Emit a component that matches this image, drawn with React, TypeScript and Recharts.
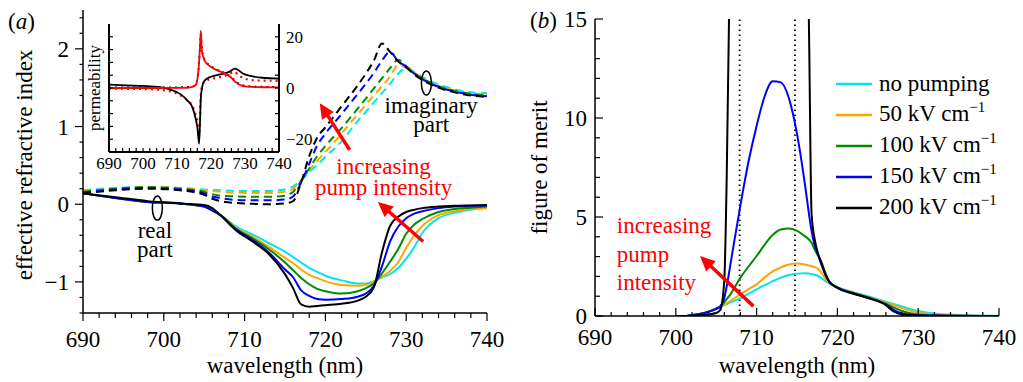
import React from 'react'
import {
  LineChart,
  Line,
  XAxis,
  YAxis,
  ReferenceLine,
  ReferenceDot,
  Legend
} from 'recharts'

const SERIF = 'Liberation Serif, Tinos, DejaVu Serif, Noto Serif, serif'
const RED = '#ff0000'
const AXIS = { stroke: '#000', strokeWidth: 1.5 }

// series colours, lowest to highest pump field
const colors = ['#00e6f0', '#ffa500', '#008c00', '#0000ff', '#000000']
const fields = [0, 50, 100, 150, 200]

// ---------- panel (a): effective refractive index ----------
const wlA = [690, 694, 698, 702, 705, 706, 707, 709, 711, 713, 715, 716, 717, 718, 719, 720, 722, 724, 725, 726, 727, 728, 729, 730, 731, 732, 734, 736, 738, 740]

const reCyan = [0.14, 0.08, 0.03, 0.01, -0.03, -0.08, -0.14, -0.29, -0.39, -0.5, -0.61, -0.68, -0.75, -0.82, -0.87, -0.92, -0.98, -1.02, -1.02, -0.99, -0.94, -0.9, -0.82, -0.7, -0.55, -0.37, -0.18, -0.11, -0.07, -0.05]
const reOrange = [0.14, 0.08, 0.03, 0.01, -0.03, -0.08, -0.14, -0.31, -0.42, -0.55, -0.69, -0.76, -0.84, -0.91, -0.95, -0.99, -1.04, -1.05, -1.04, -1.0, -0.93, -0.86, -0.75, -0.56, -0.4, -0.28, -0.14, -0.09, -0.06, -0.05]
const reGreen = [0.14, 0.08, 0.03, 0.01, -0.03, -0.08, -0.14, -0.32, -0.44, -0.58, -0.75, -0.85, -0.95, -1.03, -1.09, -1.12, -1.15, -1.12, -1.08, -1.02, -0.89, -0.74, -0.58, -0.38, -0.26, -0.19, -0.1, -0.06, -0.045, -0.03]
const reBlue = [0.14, 0.08, 0.03, 0.01, -0.03, -0.08, -0.14, -0.33, -0.46, -0.62, -0.84, -0.94, -1.11, -1.18, -1.22, -1.23, -1.22, -1.19, -1.15, -1.05, -0.8, -0.48, -0.29, -0.18, -0.12, -0.09, -0.05, -0.03, -0.02, -0.015]
const reBlack = [0.14, 0.09, 0.04, 0.01, -0.01, -0.05, -0.14, -0.34, -0.48, -0.64, -0.9, -1.08, -1.29, -1.32, -1.31, -1.3, -1.28, -1.24, -1.19, -1.07, -0.62, -0.28, -0.16, -0.1, -0.07, -0.05, -0.03, -0.02, -0.015, -0.01]

const imCyan = [0.18, 0.21, 0.22, 0.21, 0.19, 0.185, 0.18, 0.17, 0.17, 0.17, 0.19, 0.23, 0.31, 0.41, 0.51, 0.61, 0.81, 1.07, 1.19, 1.31, 1.43, 1.55, 1.68, 1.75, 1.7, 1.64, 1.54, 1.48, 1.44, 1.43]
const imOrange = [0.17, 0.2, 0.22, 0.21, 0.18, 0.17, 0.16, 0.15, 0.145, 0.145, 0.16, 0.2, 0.31, 0.44, 0.56, 0.67, 0.91, 1.16, 1.28, 1.4, 1.52, 1.64, 1.79, 1.76, 1.69, 1.62, 1.52, 1.46, 1.42, 1.41]
const imGreen = [0.16, 0.2, 0.22, 0.2, 0.16, 0.13, 0.11, 0.1, 0.095, 0.095, 0.11, 0.16, 0.3, 0.46, 0.62, 0.75, 0.98, 1.23, 1.36, 1.49, 1.62, 1.75, 1.86, 1.78, 1.69, 1.62, 1.52, 1.46, 1.42, 1.4]
const imBlue = [0.15, 0.19, 0.21, 0.19, 0.14, 0.1, 0.08, 0.055, 0.05, 0.05, 0.06, 0.1, 0.28, 0.52, 0.76, 0.91, 1.16, 1.42, 1.55, 1.69, 1.85, 1.96, 1.84, 1.77, 1.68, 1.61, 1.51, 1.45, 1.41, 1.39]
const imBlack = [0.14, 0.18, 0.2, 0.18, 0.12, 0.07, 0.04, 0.015, 0.005, 0.0, 0.01, 0.04, 0.28, 0.62, 0.86, 0.99, 1.26, 1.53, 1.68, 1.85, 2.07, 1.96, 1.84, 1.76, 1.67, 1.6, 1.5, 1.44, 1.4, 1.38]

const realParts = [reCyan, reOrange, reGreen, reBlue, reBlack]
const imagParts = [imCyan, imOrange, imGreen, imBlue, imBlack]

// ---------- inset: permeability ----------
const wlInset = [690, 695, 700, 705, 708, 711, 713, 714.5, 715.5, 716, 716.5, 716.8, 717, 717.3, 717.7, 718.2, 719, 720, 722, 724, 725.5, 727, 728, 729, 730, 732, 735, 740]
const muReSolid = [1.3, 1.0, 0.8, 0.3, -0.6, -2.4, -4.8, -7.5, -12, -15.5, -21.8, -12, -4, -0.5, 2.0, 3.0, 3.8, 4.4, 5.1, 5.7, 6.4, 7.6, 7.0, 6.0, 5.3, 4.6, 4.0, 3.7]
const muImSolid = [0, 0, 0, 0, 0.02, 0.05, 0.1, 0.4, 1.2, 3.5, 10, 17, 22.4, 15, 12.3, 10.5, 9.2, 8.2, 6.8, 5.7, 4.6, 2.6, 1.6, 0.9, 0.6, 0.4, 0.3, 0.2]
const muReDotted = [-0.3, -0.3, -0.4, -0.7, -1.3, -2.9, -4.8, -7.0, -10.5, -13, -18, -10, -3, 0.5, 1.8, 2.5, 3.1, 3.5, 4.1, 4.7, 5.6, 6.3, 5.0, 4.2, 3.6, 3.1, 2.9, 2.8]
const muImDotted = [0.2, 0.2, 0.2, 0.2, 0.2, 0.3, 0.4, 0.6, 1.5, 3.5, 10, 17, 21, 15.5, 12.5, 10.8, 9.5, 8.5, 7.0, 5.9, 4.7, 3.0, 1.9, 1.2, 0.9, 0.6, 0.5, 0.4]

// ---------- panel (b): figure of merit ----------
const wlB = [700, 701, 702, 703, 704, 705, 705.5, 706, 706.3, 706.6, 707, 708, 709, 710, 711, 712, 713, 714, 715, 716, 716.5, 716.8, 717.2, 717.6, 718, 718.5, 719, 720, 722, 724, 726, 727, 728, 730, 732, 735, 740]
const fomCyan = [0, 0, 0.04, 0.1, 0.2, 0.35, 0.45, 0.55, 0.6, 0.66, 0.73, 0.9, 1.12, 1.35, 1.56, 1.76, 1.94, 2.07, 2.14, 2.16, 2.14, 2.12, 2.08, 2.02, 1.92, 1.76, 1.65, 1.45, 1.2, 0.97, 0.72, 0.6, 0.48, 0.25, 0.13, 0.05, 0.01]
const fomOrange = [0, 0, 0.04, 0.1, 0.21, 0.36, 0.46, 0.58, 0.65, 0.72, 0.82, 1.1, 1.36, 1.6, 1.95, 2.25, 2.45, 2.6, 2.65, 2.6, 2.55, 2.52, 2.47, 2.38, 2.2, 1.9, 1.7, 1.45, 1.18, 0.94, 0.68, 0.54, 0.4, 0.18, 0.08, 0.03, 0]
const fomGreen = [0, 0, 0.05, 0.11, 0.22, 0.38, 0.48, 0.7, 0.85, 1.0, 1.25, 1.94, 2.5, 3.03, 3.6, 4.1, 4.37, 4.42, 4.3, 4.02, 3.85, 3.7, 3.35, 3.05, 2.75, 2.2, 1.75, 1.45, 1.16, 0.92, 0.62, 0.42, 0.25, 0.08, 0.03, 0.01, 0]
const fomBlue = [0, 0, 0.04, 0.1, 0.2, 0.36, 0.48, 0.9, 1.5, 2.2, 3.2, 5.6, 7.8, 9.6, 11.1, 11.85, 11.8, 11.0, 9.2, 6.6, 5.1, 4.3, 3.55, 3.1, 2.62, 2.1, 1.72, 1.43, 1.14, 0.9, 0.58, 0.3, 0.13, 0.04, 0.02, 0.01, 0]
const fomBlack = [0, 0, 0.02, 0.04, 0.08, 0.15, 0.3, 1.8, 7.0, 15.5, 28, 40, 45, 48, 50, 50, 48, 44, 38, 28, 14, 5.2, 3.85, 3.15, 2.7, 2.12, 1.72, 1.42, 1.12, 0.88, 0.55, 0.22, 0.08, 0.02, 0.01, 0, 0]
const fomSeries = [fomCyan, fomOrange, fomGreen, fomBlue, fomBlack]

const legendLabels = ['no pumping', '50 kV cm', '100 kV cm', '150 kV cm', '200 kV cm']

// ticks
const wlMajor = [690, 700, 710, 720, 730, 740]
const stepTicks = (from: number, to: number, step: number) => {
  const out: number[] = []
  for (let v = from; v <= to + 1e-9; v += step) out.push(Math.round(v * 100) / 100)
  return out
}
const wlTicks = stepTicks(690, 740, 2)
const nA = [-1, 0, 1, 2]
const nATicks = stepTicks(-1.4, 2.4, 0.2)
const fomMajor = [0, 5, 10, 15]
const fomTicks = stepTicks(0, 15, 1)
const muMajor = [-20, 0, 20]
const muTicks = stepTicks(-20, 20, 5)

const toPts = (xs: number[], ys: number[]) => xs.map((x, i) => ({ x, y: ys[i] }))
const fmt = (v: number) => (v < 0 ? '\u2212' + Math.abs(v) : String(v))

type TickOpts = {
  side: 'bottom' | 'top' | 'left' | 'right'
  inward: boolean
  majors: number[]
  majorLen: number
  minorLen: number
  labels?: boolean
  gap?: number
  dy?: number
  fontSize?: number
}

const makeTick = (o: TickOpts) => (p: any) => {
  const v = p.payload.value
  const isMajor = o.majors.some((m) => Math.abs(m - v) < 1e-6)
  const len = isMajor ? o.majorLen : o.minorLen
  const d = o.inward ? 1 : -1
  const { x, y } = p
  let x2 = x
  let y2 = y
  if (o.side === 'bottom') y2 = y - d * len
  if (o.side === 'top') y2 = y + d * len
  if (o.side === 'left') x2 = x + d * len
  if (o.side === 'right') x2 = x - d * len
  let label = null
  if (o.labels && isMajor) {
    const common = { fontSize: o.fontSize, fontFamily: SERIF, fill: '#000' }
    if (o.side === 'bottom')
      label = <text x={x} y={y + (o.gap || 0)} textAnchor="middle" {...common}>{fmt(v)}</text>
    if (o.side === 'left')
      label = <text x={x - (o.gap || 0)} y={y + (o.dy || 0)} textAnchor="end" {...common}>{fmt(v)}</text>
    if (o.side === 'right')
      label = <text x={x + (o.gap || 0)} y={y + (o.dy || 0)} textAnchor="start" {...common}>{fmt(v)}</text>
  }
  return (
    <g>
      <line x1={x} y1={y} x2={x2} y2={y2} stroke="#000" strokeWidth={1.2} />
      {label}
    </g>
  )
}

const xTitle = (text: string, below: number, fs: number) => (props: any) => {
  const vb = props.viewBox || {}
  return (
    <text x={vb.x + vb.width / 2} y={vb.y + below} textAnchor="middle" fontSize={fs} fontFamily={SERIF} fill="#000">
      {text}
    </text>
  )
}

const yTitle = (text: string, left: number, shift: number, fs: number) => (props: any) => {
  const vb = props.viewBox || {}
  const cx = vb.x + vb.width - left
  const cy = vb.y + vb.height / 2 + shift
  return (
    <text transform={`translate(${cx},${cy}) rotate(-90)`} textAnchor="middle" fontSize={fs} fontFamily={SERIF} fill="#000">
      {text}
    </text>
  )
}

const Arrow = (p: any) => {
  const { x1, y1, x2, y2 } = p
  const dx = x2 - x1
  const dy = y2 - y1
  const L = Math.hypot(dx, dy) || 1
  const ux = dx / L
  const uy = dy / L
  const hl = 15
  const hw = 7
  const bx = x2 - ux * hl
  const by = y2 - uy * hl
  return (
    <g>
      <line x1={x1} y1={y1} x2={bx + ux * 2} y2={by + uy * 2} stroke={RED} strokeWidth={3.5} />
      <polygon points={`${x2},${y2} ${bx - uy * hw},${by + ux * hw} ${bx + uy * hw},${by - ux * hw}`} fill={RED} />
    </g>
  )
}

const noteShape = (text: string, color: string, anchor: string, fs: number) => (p: any) => (
  <text x={p.cx} y={p.cy} textAnchor={anchor} fontSize={fs} fontFamily={SERIF} fill={color}>
    {text}
  </text>
)

const ellipseShape = (p: any) => (
  <ellipse cx={p.cx} cy={p.cy} rx={5} ry={12} fill="none" stroke="#000" strokeWidth={1.5} />
)

// annotation anchors, data units (baselines of the text lines)
const notesA = [
  { x: 727.2, y: 0.39, text: 'increasing', color: RED },
  { x: 727.2, y: 0.12, text: 'pump intensity', color: RED },
  { x: 733.1, y: 1.18, text: 'imaginary', color: '#000' },
  { x: 733.1, y: 0.93, text: 'part', color: '#000' },
  { x: 698.9, y: -0.43, text: 'real', color: '#000' },
  { x: 698.9, y: -0.68, text: 'part', color: '#000' }
]
const ellipsesA = [
  { x: 699.2, y: -0.05 },
  { x: 732.5, y: 1.56 }
]
const arrowsA = [
  [{ x: 732.1, y: -0.48 }, { x: 726.5, y: 0.03 }],
  [{ x: 723.0, y: 0.7 }, { x: 719.3, y: 1.3 }]
]
const notesB = [
  { x: 692.7, y: 4.17, text: 'increasing' },
  { x: 692.7, y: 2.73, text: 'pump' },
  { x: 692.7, y: 1.29, text: 'intensity' }
]
const arrowB = [{ x: 709.6, y: 0.5 }, { x: 703.0, y: 3.03 }]
const markersB = [707.9, 714.75]

const FomLegend = () => (
  <div style={{ fontFamily: SERIF, fontSize: 23, color: '#000' }}>
    {legendLabels.map((lab, i) => (
      <div key={lab} style={{ display: 'flex', alignItems: 'center', height: 31, whiteSpace: 'nowrap' }}>
        <svg width={36} height={4} style={{ marginRight: 7 }}>
          <line x1={0} x2={36} y1={2} y2={2} stroke={colors[i]} strokeWidth={2.5} />
        </svg>
        <span style={{ lineHeight: '31px' }}>
          {lab}
          {fields[i] > 0 && (
            <span style={{ fontSize: 15, position: 'relative', top: -9 }}>{'\u22121'}</span>
          )}
        </span>
      </div>
    ))}
  </div>
)

const PanelA = () => (
  <LineChart width={515} height={382} margin={{ top: 10, right: 28, bottom: 0, left: 0 }}>
    <XAxis
      dataKey="x"
      type="number"
      domain={[690, 740]}
      ticks={wlTicks}
      interval={0}
      tickSize={0}
      tickMargin={0}
      tickLine={false}
      axisLine={AXIS}
      height={69}
      tick={makeTick({ side: 'bottom', inward: false, majors: wlMajor, majorLen: 8, minorLen: 5, labels: true, gap: 33.5, fontSize: 23 })}
      label={xTitle('wavelength (nm)', 60, 23)}
    />
    <YAxis
      type="number"
      domain={[-1.4, 2.5]}
      ticks={nATicks}
      interval={0}
      tickSize={0}
      tickMargin={0}
      tickLine={false}
      axisLine={AXIS}
      width={83}
      tick={makeTick({ side: 'left', inward: false, majors: nA, majorLen: 8, minorLen: 3.5, labels: true, gap: 14, dy: 8, fontSize: 23 })}
      label={yTitle('effective refractive index', 51.5, 3.5, 23)}
    />
    {imagParts.map((ys, i) => (
      <Line
        key={'im' + i}
        data={toPts(wlA, ys)}
        dataKey="y"
        type="monotone"
        stroke={colors[i]}
        strokeWidth={2}
        strokeDasharray="8 5"
        dot={false}
        activeDot={false}
        isAnimationActive={false}
      />
    ))}
    {realParts.map((ys, i) => (
      <Line
        key={'re' + i}
        data={toPts(wlA, ys)}
        dataKey="y"
        type="monotone"
        stroke={colors[i]}
        strokeWidth={2}
        dot={false}
        activeDot={false}
        isAnimationActive={false}
      />
    ))}
    {ellipsesA.map((e, i) => (
      <ReferenceDot key={'el' + i} x={e.x} y={e.y} r={1} shape={ellipseShape} />
    ))}
    {notesA.map((n, i) => (
      <ReferenceDot key={'na' + i} x={n.x} y={n.y} r={1} shape={noteShape(n.text, n.color, 'middle', 23)} />
    ))}
    {arrowsA.map((seg, i) => (
      <ReferenceLine key={'ar' + i} segment={seg} shape={Arrow} />
    ))}
  </LineChart>
)

const Inset = () => (
  <LineChart width={260} height={175} margin={{ top: 24, right: 20, bottom: 0, left: 0 }}>
    <XAxis
      xAxisId="b"
      dataKey="x"
      type="number"
      domain={[690, 740]}
      ticks={wlTicks}
      interval={0}
      tickSize={0}
      tickMargin={0}
      tickLine={false}
      axisLine={{ stroke: '#000', strokeWidth: 2 }}
      height={23}
      tick={makeTick({ side: 'bottom', inward: true, majors: wlMajor, majorLen: 4, minorLen: 4, labels: true, gap: 17, fontSize: 17 })}
    />
    <XAxis
      xAxisId="t"
      orientation="top"
      dataKey="x"
      type="number"
      domain={[690, 740]}
      ticks={wlTicks}
      interval={0}
      tickSize={0}
      tickMargin={0}
      tickLine={false}
      axisLine={{ stroke: '#000', strokeWidth: 2 }}
      height={0}
      tick={makeTick({ side: 'top', inward: true, majors: wlMajor, majorLen: 4, minorLen: 4 })}
    />
    <YAxis
      yAxisId="l"
      type="number"
      domain={[-25, 25]}
      ticks={muTicks}
      interval={0}
      tickSize={0}
      tickMargin={0}
      tickLine={false}
      axisLine={{ stroke: '#000', strokeWidth: 2 }}
      width={39}
      tick={makeTick({ side: 'left', inward: true, majors: muMajor, majorLen: 4, minorLen: 4 })}
      label={yTitle('permeability', 9.5, 0, 17)}
    />
    <YAxis
      yAxisId="r"
      orientation="right"
      type="number"
      domain={[-25, 25]}
      ticks={muTicks}
      interval={0}
      tickSize={0}
      tickMargin={0}
      tickLine={false}
      axisLine={{ stroke: '#000', strokeWidth: 2 }}
      width={31}
      tick={makeTick({ side: 'right', inward: true, majors: muMajor, majorLen: 4, minorLen: 4, labels: true, gap: 7, dy: 6, fontSize: 17 })}
    />
    <Line xAxisId="t" yAxisId="l" data={toPts(wlInset, muReDotted)} dataKey="y" type="monotone" stroke={RED} strokeWidth={2.2} strokeDasharray="2 4" dot={false} activeDot={false} isAnimationActive={false} />
    <Line xAxisId="t" yAxisId="l" data={toPts(wlInset, muImDotted)} dataKey="y" type="monotone" stroke="#000" strokeWidth={1.8} strokeDasharray="2 4" dot={false} activeDot={false} isAnimationActive={false} />
    <Line xAxisId="b" yAxisId="r" data={toPts(wlInset, muReSolid)} dataKey="y" type="monotone" stroke="#000" strokeWidth={1.8} dot={false} activeDot={false} isAnimationActive={false} />
    <Line xAxisId="b" yAxisId="r" data={toPts(wlInset, muImSolid)} dataKey="y" type="monotone" stroke={RED} strokeWidth={1.8} dot={false} activeDot={false} isAnimationActive={false} />
  </LineChart>
)

const PanelB = () => (
  <LineChart width={513} height={382} margin={{ top: 19, right: 24, bottom: 0, left: 0 }}>
    <XAxis
      dataKey="x"
      type="number"
      domain={[690, 740]}
      ticks={wlTicks}
      interval={0}
      tickSize={0}
      tickMargin={0}
      tickLine={false}
      axisLine={AXIS}
      height={66}
      tick={makeTick({ side: 'bottom', inward: true, majors: wlMajor, majorLen: 8, minorLen: 4, labels: true, gap: 29, fontSize: 23 })}
      label={xTitle('wavelength (nm)', 56.5, 23)}
    />
    <YAxis
      type="number"
      domain={[0, 15]}
      allowDataOverflow
      ticks={fomTicks}
      interval={0}
      tickSize={0}
      tickMargin={0}
      tickLine={false}
      axisLine={AXIS}
      width={85}
      tick={makeTick({ side: 'left', inward: true, majors: fomMajor, majorLen: 8, minorLen: 5, labels: true, gap: 8, dy: 8, fontSize: 23 })}
      label={yTitle('figure of merit', 48.4, 0, 23)}
    />
    {markersB.map((m) => (
      <ReferenceLine key={'m' + m} x={m} stroke="#000" strokeWidth={1.8} strokeDasharray="1.5 3.5" />
    ))}
    {fomSeries.map((ys, i) => (
      <Line
        key={'fom' + i}
        name={legendLabels[i]}
        data={toPts(wlB, ys)}
        dataKey="y"
        type="monotone"
        stroke={colors[i]}
        strokeWidth={2}
        dot={false}
        activeDot={false}
        isAnimationActive={false}
      />
    ))}
    {notesB.map((n, i) => (
      <ReferenceDot key={'nb' + i} x={n.x} y={n.y} r={1} shape={noteShape(n.text, RED, 'start', 23)} />
    ))}
    <ReferenceLine segment={arrowB} shape={Arrow} />
    <Legend
      layout="horizontal"
      verticalAlign="middle"
      align="center"
      wrapperStyle={{ left: 326, top: 68, width: 'auto', height: 'auto' }}
      content={() => <FomLegend />}
    />
  </LineChart>
)

const panelTag: React.CSSProperties = {
  position: 'absolute',
  fontFamily: SERIF,
  fontSize: 23,
  lineHeight: '23px',
  color: '#000'
}

export default function App() {
  return (
    <div style={{ position: 'absolute', left: 0, top: 0, width: 1023, height: 382, background: '#fff', overflow: 'hidden' }}>
      <div style={{ position: 'absolute', left: 0, top: 0 }}>
        <PanelA />
      </div>
      <div style={{ position: 'absolute', left: 70, top: 0 }}>
        <Inset />
      </div>
      <div style={{ position: 'absolute', left: 510, top: 0 }}>
        <PanelB />
      </div>
      <div style={{ ...panelTag, left: 8, top: 10 }}>
        (<i>a</i>)
      </div>
      <div style={{ ...panelTag, left: 530, top: 9 }}>
        (<i>b</i>)
      </div>
    </div>
  )
}
